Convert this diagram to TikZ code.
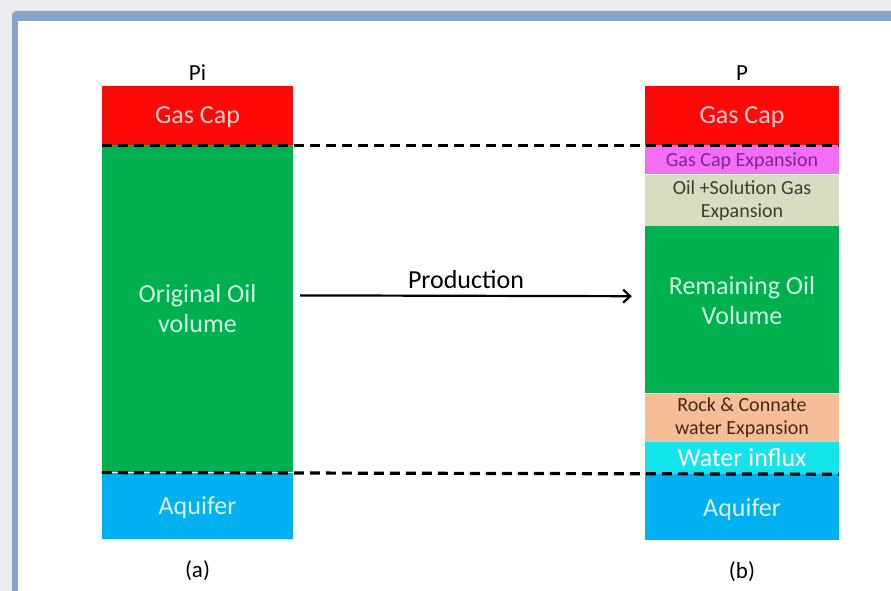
\documentclass[tikz,border=0pt]{standalone}
\usepackage{fontspec}
\setmainfont{Carlito}
\usepackage{tikz}
\usepackage{xcolor}
\usetikzlibrary{calc,positioning,arrows.meta}

\definecolor{pagegray}{RGB}{236,236,238}
\definecolor{frameblue}{RGB}{138,163,203}
\definecolor{gasred}{RGB}{255,8,8}
\definecolor{gastext}{RGB}{255,205,205}
\definecolor{oilgreen}{RGB}{0,176,80}
\definecolor{oiltext}{RGB}{205,250,220}
\definecolor{aqblue}{RGB}{0,176,240}
\definecolor{aqtext}{RGB}{215,242,255}
\definecolor{gcpink}{RGB}{244,110,244}
\definecolor{gcpurple}{RGB}{120,40,150}
\definecolor{osgbeige}{RGB}{218,220,194}
\definecolor{osgtext}{RGB}{60,62,50}
\definecolor{rockpeach}{RGB}{246,190,150}
\definecolor{rocktext}{RGB}{70,40,20}
\definecolor{watercyan}{RGB}{20,228,235}

\begin{document}
\begin{tikzpicture}[x=1pt,y=-1pt]
        \tikzstyle{layer}=[rectangle,inner sep=0pt,align=center,node distance=0pt]
        \tikzstyle{bigtext}=[font=\fontsize{26}{30}\selectfont]
        \tikzstyle{smalltext}=[font=\fontsize{20}{23}\selectfont]
        \tikzstyle{captext}=[font=\fontsize{23}{27}\selectfont]
        \tikzstyle{contact}=[dash pattern=on 10pt off 6pt,line width=3.2pt]
        % frame
        \useasboundingbox (0,0) rectangle (891,591);
        \fill[pagegray] (0,0) rectangle (891,591);
        \fill[frameblue,rounded corners=4pt] (12,11) rectangle (905,605);
        \fill[white] (18,21) rectangle (905,605);
        % initial reservoir (a)
        \node[layer,bigtext,fill=gasred,text=gastext,text depth=0pt,minimum width=191,minimum height=59] (gasA) at (197.5,115.5) {Gas Cap};
        \node[layer,bigtext,fill=oilgreen,text=oiltext,minimum width=191,minimum height=327,below=of gasA] (oilA) {Original Oil\\volume};
        \node[layer,bigtext,fill=aqblue,text=aqtext,text depth=0pt,minimum width=191,minimum height=66,below=of oilA] (aqA) {Aquifer};
        \node[captext,above=2pt of gasA] (pi) {Pi};
        \node[captext,below=18pt of aqA] (capa) {(a)};
        % reservoir after production (b)
        \node[layer,bigtext,fill=gasred,text=gastext,text depth=0pt,minimum width=194,minimum height=59] (gasB) at (742,115.5) {Gas Cap};
        \node[layer,smalltext,fill=gcpink,text=gcpurple,text depth=0pt,minimum width=194,minimum height=29,below=of gasB] (gcexp) {Gas Cap Expansion};
        \node[layer,smalltext,fill=osgbeige,text=osgtext,minimum width=194,minimum height=51,below=of gcexp] (osgexp) {Oil +Solution Gas\\Expansion};
        \node[layer,bigtext,fill=oilgreen,text=oiltext,minimum width=194,minimum height=167,below=of osgexp] (remoil) {Remaining Oil\\Volume\\[-12pt]};
        \node[layer,smalltext,fill=rockpeach,text=rocktext,minimum width=194,minimum height=48,below=of remoil] (rock) {Rock \& Connate\\water Expansion};
        \node[layer,bigtext,fill=watercyan,text=white,minimum width=194,minimum height=32,below=of rock] (water) {Water influx};
        \node[layer,bigtext,fill=aqblue,text=aqtext,text depth=0pt,minimum width=194,minimum height=66,below=of water] (aqB) {Aquifer};
        \node[captext,above=2pt of gasB] (p) {P};
        \node[captext,below=18pt of aqB] (capb) {(b)};
        % contacts
        \draw[contact] (gasA.south west)--(gasB.south east);
        \draw[contact] (aqA.north west)--(aqB.north east);
        % production
        \draw[-{Straight Barb[length=7pt,width=13pt]},line width=2.2pt] ($(oilA.east)+(7,-13.5)$)--($(remoil.west)+(-13,-13.5)$) node[midway,above=3pt,bigtext] (prod) {Production};
    \end{tikzpicture}
\end{document}
